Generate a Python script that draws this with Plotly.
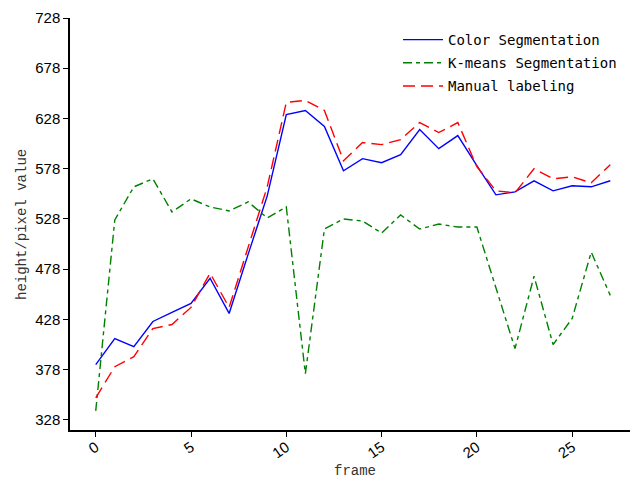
import plotly.graph_objects as go

frames = list(range(28))
color_seg = [383, 409, 401, 426, 435, 444, 469, 434, 493, 551, 632, 636,
             620, 576, 588, 584, 592, 617, 598, 611, 581, 552, 555, 566,
             556, 561, 560, 566]
kmeans_seg = [337, 527, 560, 568, 535, 548, 540, 536, 545, 529, 540, 374,
              518, 528, 526, 514, 532, 518, 523, 520, 520, 460, 399, 471,
              403, 429, 495, 452]
manual = [350, 381, 391, 419, 423, 440, 474, 440, 500, 560, 644, 646,
          636, 586, 604, 602, 607, 624, 614, 624, 580, 556, 554, 578,
          568, 570, 564, 582]
y_ticks = [328, 378, 428, 478, 528, 578, 628, 678, 728]
x_ticks = [0, 5, 10, 15, 20, 25]

# page body has an 8px margin; figure coordinates = window coordinates - 8
OFF = 8
W, H = 638 - OFF, 484 - OFF
ml, mt = 70 - OFF, 18 - OFF
plot_right, plot_bottom = 636 - OFF, 430 - OFF
mr, mb = W - plot_right, H - plot_bottom
pw = W - ml - mr
ph = H - mt - mb


def px_x(xw):
    return (xw - OFF - ml) / pw


def px_y(yw):
    return 1 - (yw - OFF - mt) / ph


fig = go.Figure()
fig.add_trace(go.Scatter(x=frames, y=color_seg, mode="lines", name="Color Segmentation",
                         legendgroup="a",
                         line=dict(color="#0000ff", width=1.4)))
fig.add_trace(go.Scatter(x=frames, y=kmeans_seg, mode="lines", name="K-means Segmentation",
                         legendgroup="b",
                         line=dict(color="#008000", width=1.4, dash="9px,4px,4px,4px")))
fig.add_trace(go.Scatter(x=frames, y=manual, mode="lines", name="Manual labeling",
                         legendgroup="c",
                         line=dict(color="#ff0000", width=1.4, dash="12px,6px")))

fig.update_layout(
    width=W, height=H,
    margin=dict(l=ml, r=mr, t=mt, b=mb, autoexpand=False),
    plot_bgcolor="white", paper_bgcolor="white",
    showlegend=True,
    legend=dict(x=px_x(398), y=px_y(24), xanchor="left", yanchor="top",
                bgcolor="rgba(0,0,0,0)", tracegroupgap=2, traceorder="grouped",
                font=dict(family="DejaVu Sans Mono", size=14, color="black"),
                itemwidth=40),
    xaxis=dict(range=[-1.35, 28.35], tickvals=x_ticks, ticktext=[str(v) for v in x_ticks],
               tickangle=-35, ticks="outside", ticklen=5, tickwidth=1.2, tickcolor="black",
               ticklabelstandoff=-4,
               showline=True, linecolor="black", linewidth=1.5, showgrid=False, zeroline=False,
               automargin=False,
               tickfont=dict(family="Liberation Sans", size=15, color="black")),
    yaxis=dict(range=[318, 728], tickvals=y_ticks, ticktext=[str(v) for v in y_ticks],
               ticks="outside", ticklen=5, tickwidth=1.2, tickcolor="black",
               showline=True, linecolor="black", linewidth=1.5, showgrid=False, zeroline=False,
               automargin=False,
               tickfont=dict(family="Liberation Sans", size=15, color="black")),
    annotations=[
        dict(text="frame", xref="paper", yref="paper",
             x=px_x(355), y=px_y(471), xanchor="center", yanchor="middle",
             showarrow=False, font=dict(family="Liberation Mono", size=14, color="#333")),
        dict(text="height/pixel value", xref="paper", yref="paper",
             x=px_x(22), y=px_y(225), xanchor="center", yanchor="middle",
             textangle=-90, showarrow=False,
             font=dict(family="Liberation Mono", size=14, color="#333")),
    ],
)

fig.write_html("out.html")
